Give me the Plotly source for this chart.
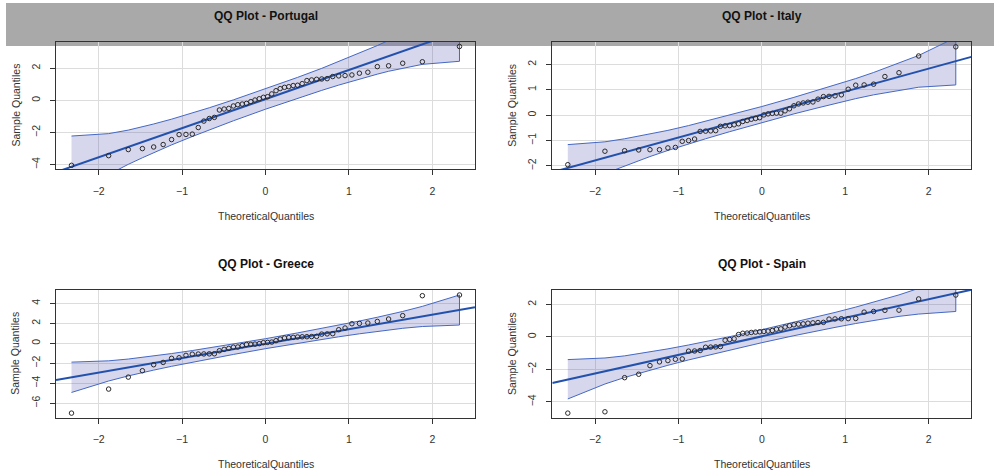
import plotly.graph_objects as go

# ---------------- data ----------------
countries = ["Portugal", "Italy", "Greece", "Spain"]

theoretical = [-2.326, -1.881, -1.645, -1.476, -1.341, -1.227, -1.126, -1.036, -0.954, -0.878,
               -0.806, -0.739, -0.674, -0.613, -0.553, -0.496, -0.440, -0.385, -0.332, -0.279,
               -0.228, -0.176, -0.126, -0.075, -0.025, 0.025, 0.075, 0.126, 0.176, 0.228,
               0.279, 0.332, 0.385, 0.440, 0.496, 0.553, 0.613, 0.674, 0.739, 0.806,
               0.878, 0.954, 1.036, 1.126, 1.227, 1.341, 1.476, 1.645, 1.881, 2.326]

portugal = [-4.04, -3.44, -3.06, -3.00, -2.90, -2.75, -2.44, -2.13, -2.12, -2.10,
            -1.69, -1.29, -1.13, -1.06, -0.60, -0.54, -0.50, -0.35, -0.27, -0.23,
            -0.19, -0.08, 0.02, 0.10, 0.19, 0.23, 0.40, 0.60, 0.73, 0.81,
            0.85, 0.92, 0.94, 1.04, 1.23, 1.27, 1.31, 1.33, 1.35, 1.48,
            1.52, 1.54, 1.58, 1.69, 1.75, 2.10, 2.15, 2.31, 2.40, 3.35]

italy = [-1.95, -1.42, -1.40, -1.37, -1.36, -1.36, -1.29, -1.27, -1.03, -1.00,
         -0.94, -0.64, -0.63, -0.62, -0.61, -0.44, -0.42, -0.41, -0.38, -0.34,
         -0.25, -0.21, -0.16, -0.13, -0.10, 0.01, 0.05, 0.07, 0.08, 0.08,
         0.17, 0.25, 0.37, 0.44, 0.48, 0.51, 0.52, 0.63, 0.73, 0.74,
         0.76, 0.80, 1.02, 1.18, 1.19, 1.22, 1.52, 1.67, 2.33, 2.69]

greece = [-6.99, -4.58, -3.38, -2.74, -2.14, -1.91, -1.50, -1.44, -1.20, -1.08,
          -1.07, -1.06, -1.05, -1.04, -0.74, -0.60, -0.50, -0.38, -0.36, -0.23,
          -0.11, -0.10, -0.07, -0.03, 0.07, 0.10, 0.13, 0.27, 0.43, 0.54,
          0.58, 0.60, 0.64, 0.66, 0.67, 0.68, 0.70, 0.93, 0.95, 0.97,
          1.37, 1.54, 1.97, 2.00, 2.04, 2.20, 2.44, 2.78, 4.78, 4.85]

spain = [-4.69, -4.61, -2.51, -2.30, -1.77, -1.54, -1.46, -1.38, -1.36, -0.88,
         -0.87, -0.84, -0.64, -0.63, -0.62, -0.60, -0.21, -0.16, -0.12, 0.14,
         0.22, 0.23, 0.27, 0.29, 0.31, 0.33, 0.35, 0.39, 0.47, 0.49,
         0.60, 0.68, 0.74, 0.78, 0.80, 0.84, 0.86, 0.88, 0.89, 1.09,
         1.10, 1.11, 1.12, 1.13, 1.52, 1.56, 1.63, 1.64, 2.33, 2.57]

# reference line (intercept, slope)
line_intercept = [0.08, 0.025, -0.03, 0.03]
line_slope = [1.81, 0.904, 1.45, 1.14]

# confidence envelope read at these theoretical quantiles
env_z = [-2.326, -1.881, -1.645, -1.476, -1.341, -1.126, -0.878, -0.674, -0.385, 0.0,
         0.385, 0.674, 0.878, 1.126, 1.341, 1.476, 1.645, 1.881, 2.326]

portugal_upper = [-2.22, -2.07, -1.85, -1.65, -1.47, -1.17, -0.79, -0.46, 0.03, 0.71,
                  1.43, 1.99, 2.41, 2.93, 3.41, 3.73, 4.14, 4.77, 6.20]
portugal_lower = [-6.04, -4.61, -3.98, -3.57, -3.25, -2.77, -2.25, -1.83, -1.27, -0.55,
                  0.13, 0.62, 0.95, 1.33, 1.63, 1.81, 2.01, 2.24, 2.43]

italy_upper = [-1.16, -1.05, -0.93, -0.83, -0.75, -0.60, -0.41, -0.24, 0.00, 0.34,
               0.70, 0.98, 1.18, 1.44, 1.68, 1.84, 2.04, 2.35, 3.06]
italy_lower = [-3.01, -2.30, -1.99, -1.79, -1.63, -1.39, -1.13, -0.93, -0.65, -0.29,
               0.05, 0.29, 0.46, 0.65, 0.80, 0.88, 0.98, 1.10, 1.19]

greece_upper = [-1.88, -1.75, -1.57, -1.41, -1.27, -1.02, -0.72, -0.46, -0.07, 0.47,
                1.05, 1.50, 1.82, 2.24, 2.62, 2.87, 3.20, 3.71, 4.85]
greece_lower = [-4.92, -3.77, -3.26, -2.93, -2.68, -2.30, -1.88, -1.56, -1.11, -0.53,
                0.01, 0.40, 0.66, 0.96, 1.21, 1.35, 1.51, 1.69, 1.84]

spain_upper = [-1.40, -1.30, -1.17, -1.04, -0.93, -0.74, -0.50, -0.30, 0.01, 0.44,
               0.89, 1.24, 1.50, 1.83, 2.13, 2.32, 2.58, 2.98, 3.87]
spain_lower = [-3.82, -2.90, -2.50, -2.24, -2.05, -1.75, -1.42, -1.16, -0.81, -0.36,
               0.07, 0.38, 0.58, 0.82, 1.01, 1.12, 1.26, 1.40, 1.56]

x_tick_values = [-2, -1, 0, 1, 2]
y_tick_step = [2, 1, 2, 2]

# ---------------- layout / styling ----------------
W, H = 994, 474
samples = [portugal, italy, greece, spain]
uppers = [portugal_upper, italy_upper, greece_upper, spain_upper]
lowers = [portugal_lower, italy_lower, greece_lower, spain_lower]

x_range = [-2.512, 2.512]
y_ranges = [[-4.27, 3.63], [-2.12, 2.88], [-7.43, 5.35], [-4.96, 2.88]]

# panel boxes in pixels: (left, right, top, bottom)
boxes = [(56, 475, 42, 169), (552.3, 971.3, 42, 169),
         (56, 475, 290, 417.5), (552.3, 971.3, 290, 417.5)]

FONT = "Liberation Sans, Arial, sans-serif"
TXT = "#333333"
fill_col = "rgba(60,60,165,0.21)"
border_col = "#4468c4"
line_col = "#2251ad"

fig = go.Figure()
layout = dict(
    width=W, height=H,
    margin=dict(l=0, r=0, t=0, b=0),
    paper_bgcolor="white", plot_bgcolor="white",
    showlegend=False,
    font=dict(family=FONT, size=10.5, color=TXT),
)
annotations = []

for i in range(4):
    n = i + 1
    xa = "x" if n == 1 else f"x{n}"
    ya = "y" if n == 1 else f"y{n}"
    l, r, t, b = boxes[i]

    # envelope polygon
    fig.add_trace(go.Scatter(
        x=env_z + env_z[::-1], y=uppers[i] + lowers[i][::-1],
        fill="toself", fillcolor=fill_col, mode="lines",
        line=dict(color=border_col, width=1), xaxis=xa, yaxis=ya,
        hoverinfo="skip"))
    # reference line across the full x range
    fig.add_trace(go.Scatter(
        x=x_range, y=[line_intercept[i] + line_slope[i] * xv for xv in x_range],
        mode="lines", line=dict(color=line_col, width=2), xaxis=xa, yaxis=ya))
    # sample points
    fig.add_trace(go.Scatter(
        x=theoretical, y=samples[i], mode="markers",
        marker=dict(symbol="circle-open", size=4.5, color="#2a2a2a", line=dict(width=1)),
        xaxis=xa, yaxis=ya))

    axis_common = dict(
        showgrid=True, gridcolor="#dcdcdc", gridwidth=1, zeroline=False,
        showline=True, linecolor="#333333", linewidth=1.3, mirror=True,
        ticks="outside", ticklen=5, tickcolor="#333333", tickwidth=1,
        tickfont=dict(family=FONT, size=10.5, color=TXT),
    )
    layout["xaxis" if n == 1 else f"xaxis{n}"] = dict(
        axis_common, domain=[l / W, r / W], range=x_range,
        tickmode="array", tickvals=x_tick_values, anchor=ya,
        ticklabelstandoff=7)
    layout["yaxis" if n == 1 else f"yaxis{n}"] = dict(
        axis_common, domain=[1 - b / H, 1 - t / H], range=y_ranges[i],
        dtick=y_tick_step[i], tick0=0, tickangle=-90, anchor=xa,
        ticklabelstandoff=6)

    cx = (l + r) / 2
    # panel title
    annotations.append(dict(
        text=f"<b>QQ Plot - {countries[i]}</b>", x=cx / W, y=1 - (t - 26) / H,
        xref="paper", yref="paper", showarrow=False, xanchor="center", yanchor="middle",
        font=dict(family=FONT, size=12, color="#111111")))
    # x axis title
    annotations.append(dict(
        text="TheoreticalQuantiles", x=cx / W, y=1 - (b + 46.5) / H,
        xref="paper", yref="paper", showarrow=False, xanchor="center", yanchor="middle",
        font=dict(family=FONT, size=10.5, color=TXT)))
    # y axis title
    annotations.append(dict(
        text="Sample Quantiles", x=(l - 41) / W, y=1 - ((t + b) / 2) / H,
        xref="paper", yref="paper", showarrow=False, xanchor="center", yanchor="middle",
        textangle=-90, font=dict(family=FONT, size=10.5, color=TXT)))

layout["annotations"] = annotations
# grey banner across the top (drawn beneath the plot areas)
layout["shapes"] = [dict(
    type="rect", xref="paper", yref="paper",
    x0=6 / W, x1=1, y0=1 - 46 / H, y1=1 - 3 / H,
    fillcolor="#a9a9a9", line=dict(width=0), layer="below")]

fig.update_layout(**layout)
fig.write_html("out.html")
